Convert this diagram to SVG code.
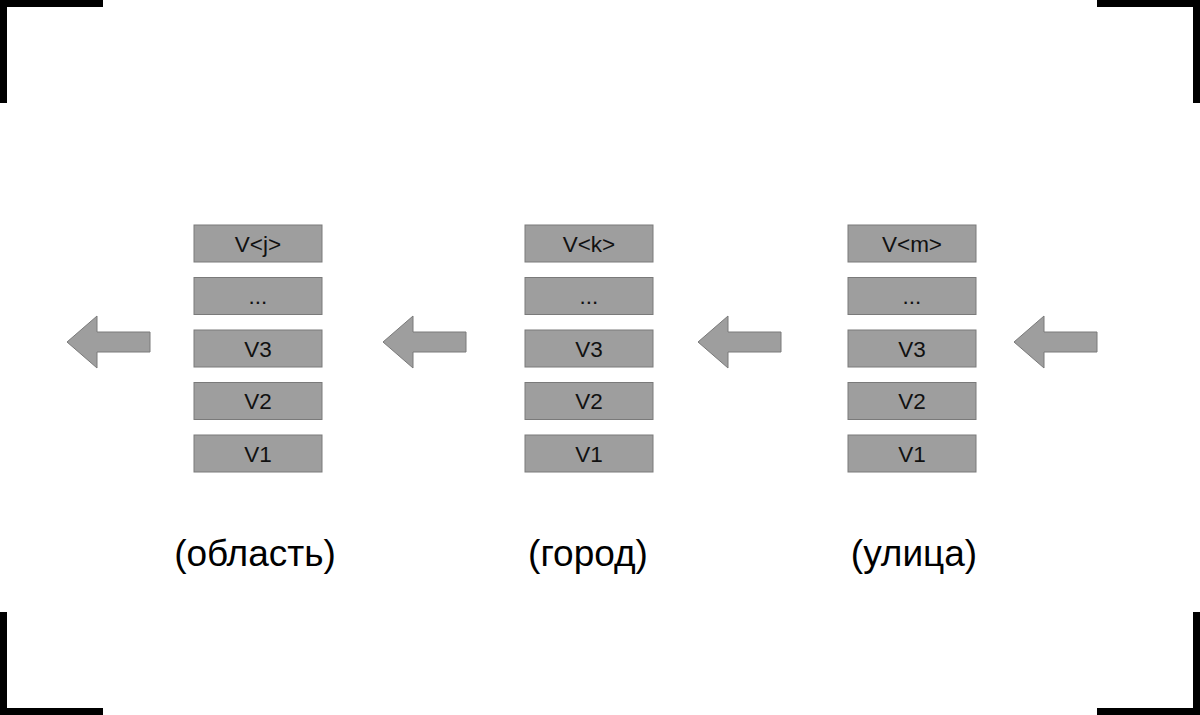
<svg xmlns="http://www.w3.org/2000/svg" width="1200" height="715" viewBox="0 0 1200 715">
<style>
.box{fill:#9e9e9e;stroke:#7a7a7a;stroke-width:1}
.bt{font-family:"Liberation Sans",Arial,sans-serif;font-size:22.5px;fill:#111;text-anchor:middle}
.lab{font-family:"Liberation Sans",Arial,sans-serif;font-size:37px;fill:#000;text-anchor:middle}
.arr{fill:#9e9e9e;stroke:#7a7a7a;stroke-width:1}
.corner{fill:none;stroke:#000;stroke-width:7}
</style>
<rect width="1200" height="715" fill="#fff"/>
<g id="corners">
<path class="corner" d="M3.5,103 V3.5 H103"/>
<path class="corner" d="M1097,711.5 H1196.5 V612"/>
<path class="corner" d="M1097,3.5 H1196.5 V103"/>
<path class="corner" d="M3.5,612 V711.5 H103"/>
</g>
<g id="col1">
<rect class="box" x="194" y="225" width="128" height="37"/><text class="bt" x="258" y="251.5">V&lt;j&gt;</text>
<rect class="box" x="194" y="277.5" width="128" height="37"/><text class="bt" x="258" y="304">...</text>
<rect class="box" x="194" y="330" width="128" height="37"/><text class="bt" x="258" y="356.5">V3</text>
<rect class="box" x="194" y="382.5" width="128" height="37"/><text class="bt" x="258" y="409">V2</text>
<rect class="box" x="194" y="435" width="128" height="37"/><text class="bt" x="258" y="461.5">V1</text>
<text class="lab" x="255" y="566">(область)</text>
</g>
<g id="col2">
<rect class="box" x="525" y="225" width="128" height="37"/><text class="bt" x="589" y="251.5">V&lt;k&gt;</text>
<rect class="box" x="525" y="277.5" width="128" height="37"/><text class="bt" x="589" y="304">...</text>
<rect class="box" x="525" y="330" width="128" height="37"/><text class="bt" x="589" y="356.5">V3</text>
<rect class="box" x="525" y="382.5" width="128" height="37"/><text class="bt" x="589" y="409">V2</text>
<rect class="box" x="525" y="435" width="128" height="37"/><text class="bt" x="589" y="461.5">V1</text>
<text class="lab" x="588" y="566">(город)</text>
</g>
<g id="col3">
<rect class="box" x="848" y="225" width="128" height="37"/><text class="bt" x="912" y="251.5">V&lt;m&gt;</text>
<rect class="box" x="848" y="277.5" width="128" height="37"/><text class="bt" x="912" y="304">...</text>
<rect class="box" x="848" y="330" width="128" height="37"/><text class="bt" x="912" y="356.5">V3</text>
<rect class="box" x="848" y="382.5" width="128" height="37"/><text class="bt" x="912" y="409">V2</text>
<rect class="box" x="848" y="435" width="128" height="37"/><text class="bt" x="912" y="461.5">V1</text>
<text class="lab" x="914" y="566">(улица)</text>
</g>
<g id="connectors">
<path class="arr" d="M67,342 L97,316 V332 H150 V352 H97 V368 Z"/>
<path class="arr" d="M383,342 L413,316 V332 H466 V352 H413 V368 Z"/>
<path class="arr" d="M698,342 L728,316 V332 H781 V352 H728 V368 Z"/>
<path class="arr" d="M1014,342 L1044,316 V332 H1097 V352 H1044 V368 Z"/>
</g>
</svg>
